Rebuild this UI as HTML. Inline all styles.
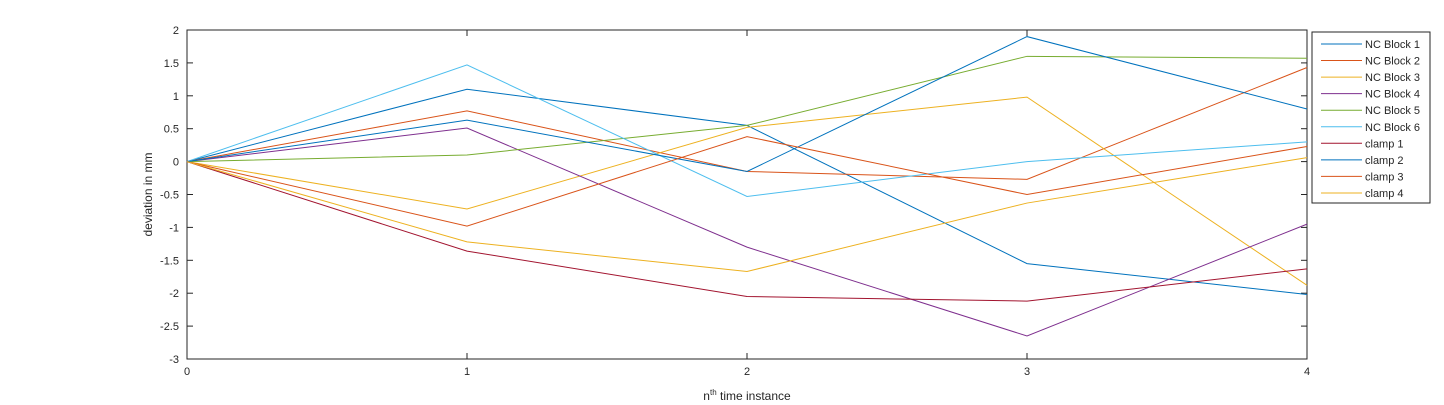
<!DOCTYPE html>
<html><head><meta charset="utf-8"><style>
html,body{margin:0;padding:0;background:#fff;}
svg{display:block;font-family:"Liberation Sans",sans-serif;}
</style></head><body>
<svg id="chart" width="1444" height="405"></svg>
<script>
const categories=[0,1,2,3,4];
const seriesNames=["NC Block 1","NC Block 2","NC Block 3","NC Block 4","NC Block 5","NC Block 6","clamp 1","clamp 2","clamp 3","clamp 4"];
const s1=[0,1.1,0.55,-1.55,-2.02];
const s2=[0,0.77,-0.15,-0.27,1.43];
const s3=[0,-0.72,0.52,0.98,-1.88];
const s4=[0,0.51,-1.3,-2.65,-0.95];
const s5=[0,0.1,0.55,1.6,1.57];
const s6=[0,1.47,-0.53,0,0.3];
const s7=[0,-1.36,-2.05,-2.12,-1.63];
const s8=[0,0.63,-0.15,1.9,0.8];
const s9=[0,-0.98,0.38,-0.5,0.23];
const s10=[0,-1.22,-1.67,-0.63,0.06];
const seriesValues=[s1,s2,s3,s4,s5,s6,s7,s8,s9,s10];
const yTicks=[2,1.5,1,0.5,0,-0.5,-1,-1.5,-2,-2.5,-3];
const xTicks=[0,1,2,3,4];
const colors=["#0072BD","#D95319","#EDB120","#7E2F8E","#77AC30","#4DBEEE","#A2142F","#0072BD","#D95319","#EDB120"];
const L=187,R=1307,T=30,B=359;
const xs=v=>L+(v-0)/(4-0)*(R-L);
const ys=v=>B-(v-(-3))/(2-(-3))*(B-T);
const NS="http://www.w3.org/2000/svg";
const svg=document.getElementById('chart');
function mk(tag,attrs,parent){const e=document.createElementNS(NS,tag);for(const k in attrs)e.setAttribute(k,attrs[k]);(parent||svg).appendChild(e);return e;}
let box=mk('rect',{x:L,y:T,width:R-L,height:B-T,fill:'#fff',stroke:'#262626','stroke-width':1});


yTicks.forEach(v=>{const y=ys(v);
 mk('line',{x1:L,x2:L+6,y1:y,y2:y,stroke:'#262626'});
 mk('line',{x1:R,x2:R-6,y1:y,y2:y,stroke:'#262626'});
 const t=mk('text',{x:L-8,y:y+4,'text-anchor':'end','font-size':11,fill:'#262626'});t.textContent=v;
 
 
});
xTicks.forEach(v=>{const x=xs(v);
 mk('line',{x1:x,x2:x,y1:B,y2:B-6,stroke:'#262626'});
 mk('line',{x1:x,x2:x,y1:T,y2:T+6,stroke:'#262626'});
 const t=mk('text',{x:x,y:B+16,'text-anchor':'middle','font-size':11,fill:'#262626'});t.textContent=v;
 
 
});
seriesValues.forEach((arr,i)=>{
 const pts=arr.map((v,j)=>xs(categories[j])+','+ys(v)).join(' ');
 const p=mk('polyline',{points:pts,fill:'none',stroke:colors[i],'stroke-width':1});
 
 
});
const yl=mk('text',{x:152,y:(T+B)/2,'text-anchor':'middle','font-size':12,fill:'#262626',transform:`rotate(-90 152 ${(T+B)/2})`});
yl.textContent='deviation in mm';


const xl=mk('text',{x:(L+R)/2,y:400,'text-anchor':'middle','font-size':12,fill:'#262626'});
xl.innerHTML='n<tspan font-size="8" dy="-5">th</tspan><tspan dy="5"> time instance</tspan>';


const lg=mk('g',{});


mk('rect',{x:1312,y:32,width:118,height:171,fill:'#fff',stroke:'#262626'},lg);
seriesNames.forEach((n,i)=>{const y=44+i*16.55;
 const g=mk('g',{},lg);
 
 
 mk('line',{x1:1321,x2:1362,y1:y,y2:y,stroke:colors[i]},g);
 const t=mk('text',{x:1365,y:y+4,'font-size':11,fill:'#262626'},g);t.textContent=n;
});
</script>
</body></html>
